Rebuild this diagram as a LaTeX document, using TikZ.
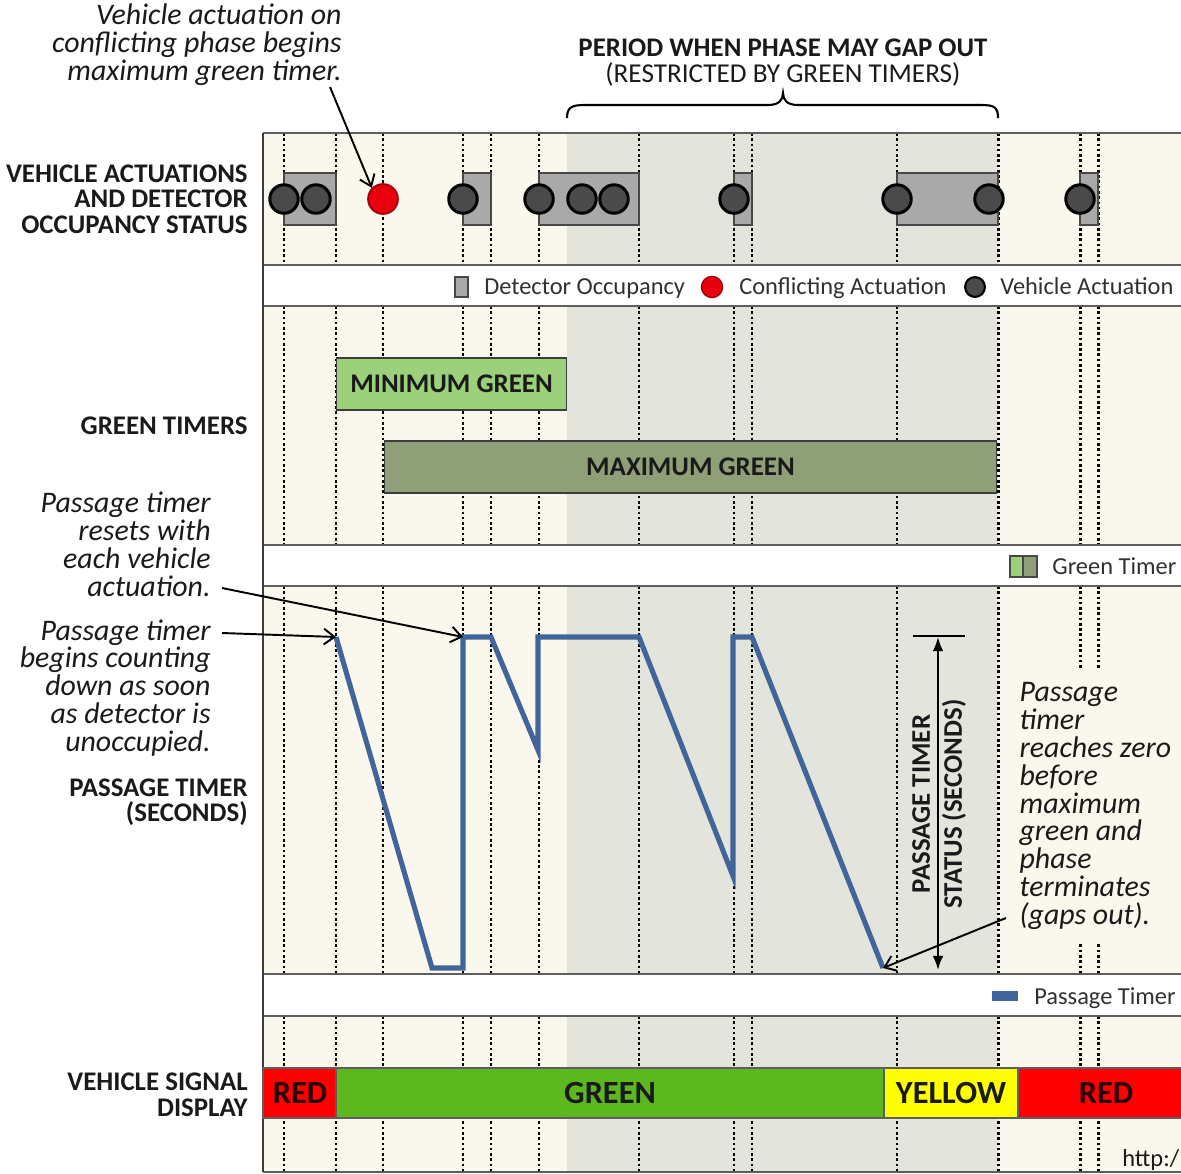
\documentclass[tikz,border=0pt]{standalone}
\usepackage{fontspec}
\setmainfont{Carlito}
\usetikzlibrary{arrows.meta}

\definecolor{beige}{HTML}{FAF8EC}
\definecolor{gapgray}{HTML}{E3E5DC}
\definecolor{occgray}{HTML}{A9A9A9}
\definecolor{vehdark}{HTML}{4A4A4A}
\definecolor{conflred}{HTML}{E8000D}
\definecolor{mingreen}{HTML}{9CD07A}
\definecolor{maxgreen}{HTML}{8F9F78}
\definecolor{timerblue}{HTML}{41659A}
\definecolor{sigred}{HTML}{FF0000}
\definecolor{siggreen}{HTML}{5DB820}
\definecolor{sigyellow}{HTML}{FFFF00}
\definecolor{rulegray}{HTML}{5E5E5E}
\definecolor{ink}{HTML}{1A1A1A}

\newcommand\lblfont{\fontsize{15.3pt}{14.5pt}\selectfont\bfseries}
\newcommand\dimfont{\fontsize{15.3pt}{18.2pt}\selectfont\bfseries}
\newcommand\subfont{\fontsize{15.5pt}{15pt}\selectfont}
\newcommand\notefont{\fontsize{17pt}{15.9pt}\selectfont\itshape}
\newcommand\keyfont{\fontsize{13.9pt}{14pt}\selectfont}
\newcommand\sigfont{\fontsize{18.4pt}{18pt}\selectfont\bfseries}

\tikzset{
  dotline/.style={draw=black, line width=1.7pt, dash pattern=on 1.5pt off 1.5pt},
  bandrule/.style={draw=rulegray, line width=0.9pt},
  occbox/.style={fill=occgray, draw=ink!80, line width=0.8pt},
  veh/.style={circle, fill=vehdark, draw=black, line width=1.7pt, minimum size=16.2pt, inner sep=0pt},
  confl/.style={circle, fill=conflred, draw=conflred!70!black, line width=1pt, minimum size=17pt, inner sep=0pt},
  vehkey/.style={circle, fill=vehdark, draw=black, line width=1.2pt, minimum size=11.3pt, inner sep=0pt},
  conflkey/.style={circle, fill=conflred, draw=conflred!70!black, line width=0.8pt, minimum size=12pt, inner sep=0pt},
  rowlabel/.style={font=\lblfont, text=ink, align=right, anchor=east, inner sep=0pt},
  note/.style={font=\notefont, text=ink, inner sep=0pt},
  keytext/.style={font=\keyfont, text=ink!90, anchor=base west, inner sep=0pt},
  notearrow/.style={draw=black, line width=1.1pt, -{Straight Barb[length=6pt,width=9pt,line width=1.1pt]}},
  timer/.style={draw=timerblue, line width=2.9pt, line join=miter},
  sigbox/.style={draw=rulegray, line width=0.8pt},
  siglabel/.style={font=\sigfont, inner sep=0pt},
  timerbox/.style={draw=ink!85, line width=0.8pt, font=\lblfont, text=ink, inner sep=0pt}
}

\begin{document}
\begin{tikzpicture}[x=0.02cm, y=-0.02cm]
\useasboundingbox (0,0) rectangle (1181,1174);
\clip (0,0) rectangle (1181,1174);
\fill[white] (0,0) rectangle (1181,1174);

% ---- chart bands: cream background, gap-out period shaded, dotted event lines
\foreach \ya/\yb in {133/265, 306/545, 586/974, 1016/1172}{
  \fill[beige] (263,\ya) rectangle (1181,\yb);
  \fill[gapgray] (567,\ya) rectangle (998,\yb);
  \foreach \x in {284,336,383,463,491,539,639,734,752,897,998,1080,1098}
    \draw[dotline] (\x,\ya) -- (\x,\yb);
}
% band borders
\foreach \y in {133,265,306,545,586,974,1016,1172}
  \draw[bandrule] (263,\y) -- (1181,\y);
\draw[draw=ink!85, line width=1pt] (263,133) -- (263,1172);

% ---- title and brace over the gap-out period
\node[font=\lblfont, text=ink, inner sep=0pt] (gaptitle) at (783,48) {PERIOD WHEN PHASE MAY GAP OUT};
\node[font=\subfont, text=ink, inner sep=0pt] (gapsub) at (783,74) {(RESTRICTED BY GREEN TIMERS)};
\draw[line width=1.2pt] (567,118) .. controls (567,107) and (572,105) .. (585,105) -- (768,105)
  .. controls (779,105) and (783,100) .. (783,93)
  .. controls (783,100) and (787,105) .. (798,105) -- (981,105)
  .. controls (994,105) and (998,107) .. (998,118);

% ---- row labels
\node[rowlabel] (lblact) at (248,199) {VEHICLE ACTUATIONS\\AND DETECTOR\\OCCUPANCY STATUS};
\node[rowlabel] (lblgreen) at (248,426) {GREEN TIMERS};
\node[rowlabel] (lblpass) at (248,802) {PASSAGE TIMER\\(SECONDS)};
\node[rowlabel] (lblsig) at (248,1095) {VEHICLE SIGNAL\\DISPLAY};

% ---- detector occupancy and actuations
\foreach \xa/\xb in {284/336, 463/491, 539/639, 734/752, 897/998, 1080/1098}
  \draw[occbox] (\xa,173) rectangle (\xb,225);
\foreach \x [count=\i] in {284,316,463,539,582,614,734,897,989,1080}
  \node[veh] (v\i) at (\x,199) {};
\node[confl] (conflict) at (383,199) {};

\node[note, align=right, anchor=east] (confnote) at (342,45)
  {Vehicle actuation on\\conflicting phase begins\\maximum green timer.};
\coordinate (confnotefoot) at (330,87);
\draw[notearrow] (confnotefoot) -- (conflict.north west);

% legend 1
\draw[fill=occgray, draw=ink!80, line width=0.8pt] (455,277) rectangle (468,297);
\node[keytext] (keyocc) at (484,294) {Detector Occupancy};
\node[conflkey] (keyconfl) at (712,287) {};
\node[keytext] (keyconfltext) at (739,294) {Conflicting Actuation};
\node[vehkey] (keyveh) at (975,287) {};
\node[keytext] (keyvehtext) at (1000,294) {Vehicle Actuation};

% ---- green timers
\node[timerbox, fill=mingreen, minimum width=231*0.5669pt, minimum height=52*0.5669pt] (mingr) at (451.5,384) {MINIMUM GREEN};
\node[timerbox, fill=maxgreen, minimum width=615*0.5669pt, minimum height=52*0.5669pt] (maxgr) at (690.5,467) {MAXIMUM GREEN};

% legend 2
\fill[mingreen] (1010,556) rectangle (1023,577);
\fill[maxgreen] (1023,556) rectangle (1037,577);
\draw[draw=ink!80, line width=0.8pt] (1010,556) rectangle (1037,577) (1023,556) -- (1023,577);
\node[keytext] (keygreen) at (1052,574) {Green Timer};

% ---- passage timer trace
\coordinate (ptStart) at (336,637);
\coordinate (ptReset) at (463,637);
\coordinate (ptZero) at (883,968);
\draw[timer] (ptStart) -- (432,968) -- (463,968) -- (ptReset) -- (491,637) -- (538,750) -- (538,637)
  -- (639,637) -- (733,876) -- (733,637) -- (752,637) -- (ptZero);

% dimension of the passage timer status
\coordinate (dimtop) at (938,637);
\coordinate (dimbot) at (938,970);
\draw[line width=1.1pt] (913,636) -- (965,636);
\draw[line width=1.1pt, {Latex[length=8pt,width=6pt]}-{Latex[length=8pt,width=6pt]}] (dimtop) -- (dimbot);
\node[font=\dimfont, text=ink, align=center, rotate=90, inner sep=0pt] (dimlabel) at (939,804)
  {PASSAGE TIMER\\STATUS (SECONDS)};

% annotations
\node[note, align=right, anchor=east] (resetnote) at (211,544)
  {Passage timer\\resets with\\each vehicle\\actuation.};
\node[note, align=right, anchor=east] (countnote) at (211,688)
  {Passage timer\\begins counting\\down as soon\\as detector is\\unoccupied.};
\coordinate (resetfoot) at (222,588);
\coordinate (counthead) at (222,633);
\draw[notearrow] (resetfoot) -- (ptReset);
\draw[notearrow] (counthead) -- (ptStart);

\node[note, align=left, anchor=west, fill=beige, inner xsep=3pt, inner ysep=8pt] (gapnote) at (1014,806)
  {Passage\\timer\\reaches zero\\before\\maximum\\green and\\phase\\terminates\\(gaps out).};
\coordinate (gapfoot) at (1006,918);
\draw[notearrow] (gapfoot) -- (ptZero);

% legend 3
\fill[timerblue] (992,991) rectangle (1018,1001);
\node[keytext] (keypass) at (1034,1004) {Passage Timer};

% ---- vehicle signal display
\draw[sigbox, fill=sigred] (263,1068) rectangle (336,1118);
\draw[sigbox, fill=siggreen] (336,1068) rectangle (884,1118);
\draw[sigbox, fill=sigyellow] (884,1068) rectangle (1018,1118);
\draw[sigbox, fill=sigred] (1018,1068) rectangle (1194,1118);
\node[siglabel, text=black!85!red] (sigred1) at (300,1093) {RED};
\node[siglabel, text=ink] (siggreen) at (610,1093) {GREEN};
\node[siglabel, text=ink] (sigyellow) at (951,1093) {YELLOW};
\node[siglabel, text=black!85!red] (sigred2) at (1106,1093) {RED};

\node[font=\keyfont, text=ink, anchor=base west, inner sep=0pt] (url) at (1122,1166) {http:/};
\end{tikzpicture}
\end{document}
